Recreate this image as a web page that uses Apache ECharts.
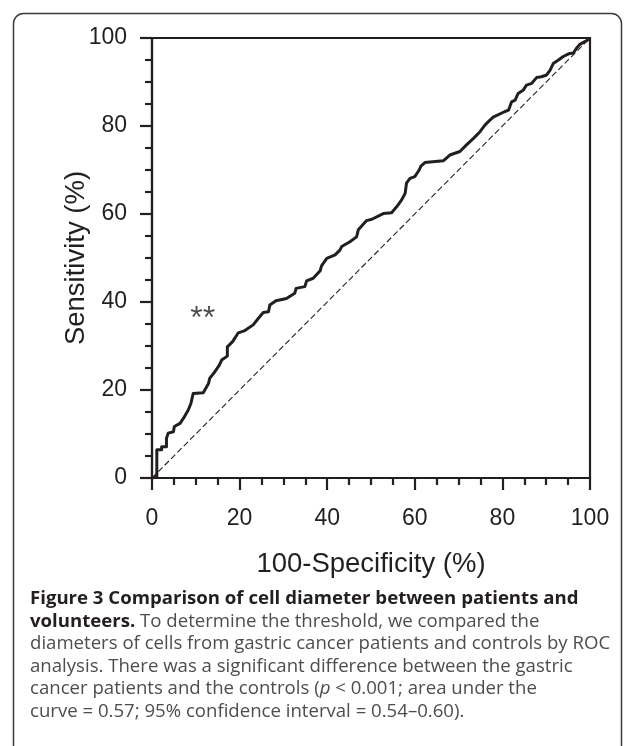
<!DOCTYPE html>
<html>
<head>
<meta charset="utf-8">
<script src="https://cdn.jsdelivr.net/npm/echarts@6/dist/echarts.min.js"></script>
<style>
html,body{margin:0;padding:0;background:#fff;}
#chart{width:633px;height:746px;}
</style>
</head>
<body>
<div id="chart"></div>
<script>
// 100-Specificity (%) values along the ROC curve
var fpr = [0,1.1,1.1,2.2,2.2,3.3,3.3,3.7,4.9,5.1,6.4,7.2,8.3,8.9,9.4,11.7,12.9,13.2,14.4,15.4,15.9,17.2,17.2,18.4,19.7,21.2,23.1,24.3,25.4,26.6,26.9,28.3,30.7,32.6,32.9,34.9,35.3,36.8,38.4,38.7,39.9,41.8,42.9,43.3,45.2,46.7,47.1,49.0,50.2,52.8,54.7,55.9,57.0,57.8,58.1,58.9,60.0,61.0,61.4,62.3,66.5,68.0,70.3,71.8,73.4,74.9,76.0,76.8,77.9,80.6,81.4,82.1,82.9,83.6,84.8,85.5,86.7,87.0,87.8,88.9,90.1,90.9,91.6,92.8,93.9,95.1,96.2,96.8,97.6,98.5,99.6,100];
// Sensitivity (%) values along the ROC curve
var tpr = [0,0.3,6.4,6.4,7.1,7.1,9.0,10.2,10.5,11.7,12.4,13.6,15.5,17.0,19.2,19.4,21.5,22.7,24.2,25.7,26.8,27.7,29.8,31.0,33.0,33.5,34.8,36.3,37.6,37.8,39.3,40.3,40.8,42.0,43.1,43.5,44.8,45.4,47.1,48.2,49.9,50.7,51.8,52.6,53.7,54.8,56.4,58.5,58.8,60.1,60.3,61.7,63.2,64.7,67.0,68.1,68.5,70.0,70.9,71.7,72.1,73.4,74.2,75.7,77.2,78.7,80.2,81.0,82.0,83.3,83.6,85.5,85.9,87.4,88.2,89.3,89.7,90.0,91.0,91.2,91.6,92.7,94.2,95.0,95.8,96.4,96.6,97.5,98.5,99.0,99.6,100];
// Reference (chance) line
var refX = [0, 100];
var refY = [0, 100];
// Significance annotation
var sigText = '**';
var sigPos = [11.6, 36];
// Axis ticks
var xTicks = [0, 20, 40, 60, 80, 100];
var yTicks = [0, 20, 40, 60, 80, 100];
var xName = '100-Specificity (%)';
var yName = 'Sensitivity (%)';
// Caption lines
var captionLines = [
  '{b|Figure 3 Comparison of cell diameter between patients and}',
  '{b|volunteers.}{r| To determine the threshold, we compared the}',
  '{r|diameters of cells from gastric cancer patients and controls by ROC}',
  '{r|analysis. There was a significant difference between the gastric}',
  '{r|cancer patients and the controls (}{i|p}{r| < 0.001; area under the}',
  '{r|curve = 0.57; 95% confidence interval = 0.54\u20130.60).}'
];

var rocData = fpr.map(function (x, i) { return [x, tpr[i]]; });
var refData = refX.map(function (x, i) { return [x, refY[i]]; });

var chart = echarts.init(document.getElementById('chart'), null, {renderer: 'canvas'});
var ink = '#231f20';
var axisFont = 'Liberation Sans, Arial, sans-serif';

function axisCommon(name, gap) {
  return {
    type: 'value', min: 0, max: 100, interval: 20,
    name: name, nameLocation: 'middle', nameGap: gap, nameMoveOverlap: false,
    nameTextStyle: {fontFamily: axisFont, fontSize: 27.5, color: ink},
    axisLine: {show: true, onZero: false, lineStyle: {color: ink, width: 2.2}},
    axisTick: {show: true, inside: false, length: 12, lineStyle: {color: ink, width: 2.2}},
    minorTick: {show: true, splitNumber: 4, length: 7, lineStyle: {color: ink, width: 2.2}},
    splitLine: {show: false},
    minorSplitLine: {show: false}
  };
}

var xAxis = axisCommon(xName, 72);
xAxis.axisLabel = {fontFamily: axisFont, fontSize: 23, color: ink, margin: 29,
  formatter: function (v) { return xTicks.indexOf(v) >= 0 ? String(v) : ''; }};
var yAxis = axisCommon(yName, 62);
yAxis.axisLabel = {fontFamily: axisFont, fontSize: 23, color: ink, margin: 25,
  formatter: function (v) { return yTicks.indexOf(v) >= 0 ? String(v) : ''; }};

var graphics = [{
  type: 'rect',
  shape: {x: 13.5, y: 13.5, width: 608, height: 800, r: 10},
  style: {fill: 'none', stroke: '#3a3a3a', lineWidth: 1.5},
  silent: true, z: -1
}];
var capY = [601, 624, 646.5, 669, 691.5, 714];
var capFont = 18.6;
captionLines.forEach(function (line, i) {
  graphics.push({
    type: 'text', left: 30, top: capY[i] - 12,
    style: {
      text: line,
      rich: {
        b: {fontFamily: 'Open Sans', fontWeight: 'bold', fontSize: capFont, fill: ink, lineHeight: 24},
        r: {fontFamily: 'Open Sans', fontSize: capFont, fill: '#4d4d4f', lineHeight: 24},
        i: {fontFamily: 'Open Sans', fontStyle: 'italic', fontSize: capFont, fill: '#4d4d4f', lineHeight: 24}
      }
    }
  });
});

chart.setOption({
  animation: false,
  backgroundColor: '#fff',
  grid: {left: 152, right: 43, top: 38, bottom: 268, show: true, borderColor: ink, borderWidth: 2.2},
  xAxis: xAxis,
  yAxis: yAxis,
  series: [
    {
      type: 'line', data: refData, symbol: 'none', silent: true,
      lineStyle: {color: '#222', width: 1.1, type: [6, 3]}, z: 1
    },
    {
      type: 'line', data: rocData, symbol: 'none', smooth: false, silent: true,
      lineStyle: {color: ink, width: 3, join: 'round'}, z: 2
    },
    {
      type: 'scatter', data: [sigPos], symbolSize: 0, silent: true,
      label: {show: true, position: 'inside', formatter: sigText,
        fontFamily: axisFont, fontSize: 32, color: ink}
    }
  ],
  graphic: graphics
});
</script>
</body>
</html>
